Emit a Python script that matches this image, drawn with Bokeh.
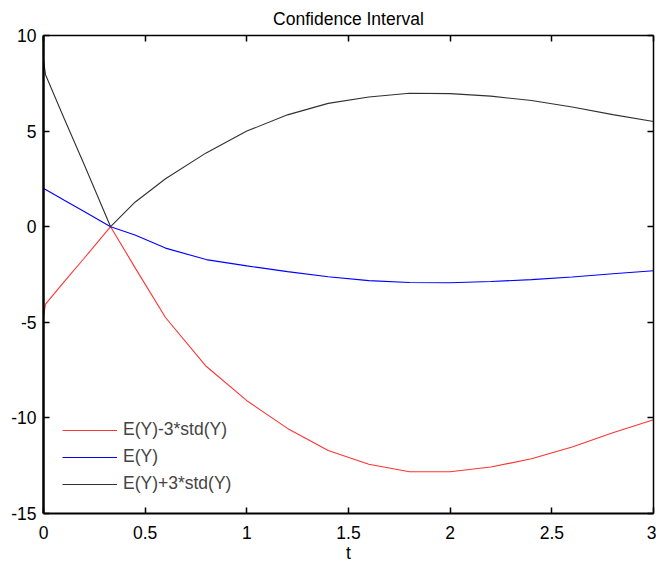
from bokeh.plotting import figure
from bokeh.models import Range1d, LinearAxis, FixedTicker, Legend, LegendItem
from bokeh.embed import file_html
from bokeh.resources import INLINE

# ---- data ----
t = [0, 0.01, 0.1, 0.2, 0.33, 0.45, 0.6, 0.8, 1.0, 1.2, 1.4, 1.6, 1.8, 2.0, 2.2, 2.4, 2.6, 2.8, 3.0]
mean_y = [2.0, 1.95, 1.4, 0.8, 0.0, -0.43, -1.12, -1.72, -2.05, -2.35, -2.62, -2.82, -2.92, -2.93,
          -2.87, -2.77, -2.63, -2.46, -2.30]
upper_y = [8.7, 7.95, 5.7, 3.25, 0.0, 1.28, 2.51, 3.86, 5.0, 5.85, 6.45, 6.78, 6.98, 6.96,
           6.83, 6.6, 6.26, 5.86, 5.5]
lower_y = [-4.7, -4.05, -2.9, -1.65, 0.0, -2.14, -4.75, -7.3, -9.1, -10.55, -11.7, -12.42, -12.82,
           -12.82, -12.57, -12.14, -11.52, -10.78, -10.1]

x_ticks = [0, 0.5, 1, 1.5, 2, 2.5, 3]
x_tick_labels = ["0", "0.5", "1", "1.5", "2", "2.5", "3"]
y_ticks = [-15, -10, -5, 0, 5, 10]
y_tick_labels = ["-15", "-10", "-5", "0", "5", "10"]

series_names = ["E(Y)-3*std(Y)", "E(Y)", "E(Y)+3*std(Y)"]
series_colors = ["#ff3333", "#0000ff", "#303030"]
title_text = "Confidence Interval"

FONT = "Liberation Sans"
FS = "17.5px"

p = figure(width=656, height=565, output_backend="svg", toolbar_location=None,
           x_range=Range1d(0, 3), y_range=Range1d(-15, 10),
           title=title_text, x_axis_label="t",
           min_border_left=43, min_border_right=3, min_border_top=35, min_border_bottom=50)

p.xgrid.visible = False
p.ygrid.visible = False
p.outline_line_color = None
p.background_fill_color = "white"
p.border_fill_color = "white"

p.title.text_font = FONT
p.title.text_font_size = FS
p.title.text_font_style = "normal"
p.title.align = "center"
p.title.vertical_align = "top"
p.title.text_color = "black"
p.title.standoff = 10

def style_axis(ax, ticks, labels, show_labels=True, width=1.5):
    ax.ticker = FixedTicker(ticks=ticks)
    ax.major_label_overrides = {tk: lb for tk, lb in zip(ticks, labels)}
    ax.major_tick_in = 6
    ax.major_tick_out = 0
    ax.minor_tick_line_color = None
    ax.axis_line_color = "black"
    ax.axis_line_width = width
    ax.major_tick_line_color = "black"
    ax.major_tick_line_width = 1.5
    ax.major_label_text_font = FONT
    if show_labels:
        ax.major_label_text_font_size = FS
        ax.major_label_text_color = "black"
    else:
        ax.major_label_text_font_size = "0px"
        ax.major_label_text_color = None
        ax.major_label_standoff = 0

style_axis(p.xaxis[0], x_ticks, x_tick_labels, width=2)
style_axis(p.yaxis[0], y_ticks, y_tick_labels, width=2.5)
p.xaxis[0].major_label_standoff = 12
p.yaxis[0].major_label_standoff = 7
p.xaxis[0].axis_label_text_font = FONT
p.xaxis[0].axis_label_text_font_size = FS
p.xaxis[0].axis_label_text_font_style = "normal"
p.xaxis[0].axis_label_text_color = "black"
p.xaxis[0].axis_label_standoff = 1

top_axis = LinearAxis()
style_axis(top_axis, x_ticks, x_tick_labels, show_labels=False)
p.add_layout(top_axis, "above")
right_axis = LinearAxis()
style_axis(right_axis, y_ticks, y_tick_labels, show_labels=False)
p.add_layout(right_axis, "right")

items = []
for ys, name, col in zip([lower_y, mean_y, upper_y], series_names, series_colors):
    r = p.line(t, ys, line_color=col, line_width=1.1)
    items.append(LegendItem(label=name, renderers=[r]))

legend = Legend(items=items, location=(19, 19), border_line_color=None,
                background_fill_alpha=0, padding=0, margin=0,
                label_text_font=FONT, label_text_font_size=FS,
                glyph_width=55, glyph_height=20, label_height=20,
                label_standoff=6, spacing=6)
p.add_layout(legend)

open("out.html", "w").write(file_html(p, INLINE))
